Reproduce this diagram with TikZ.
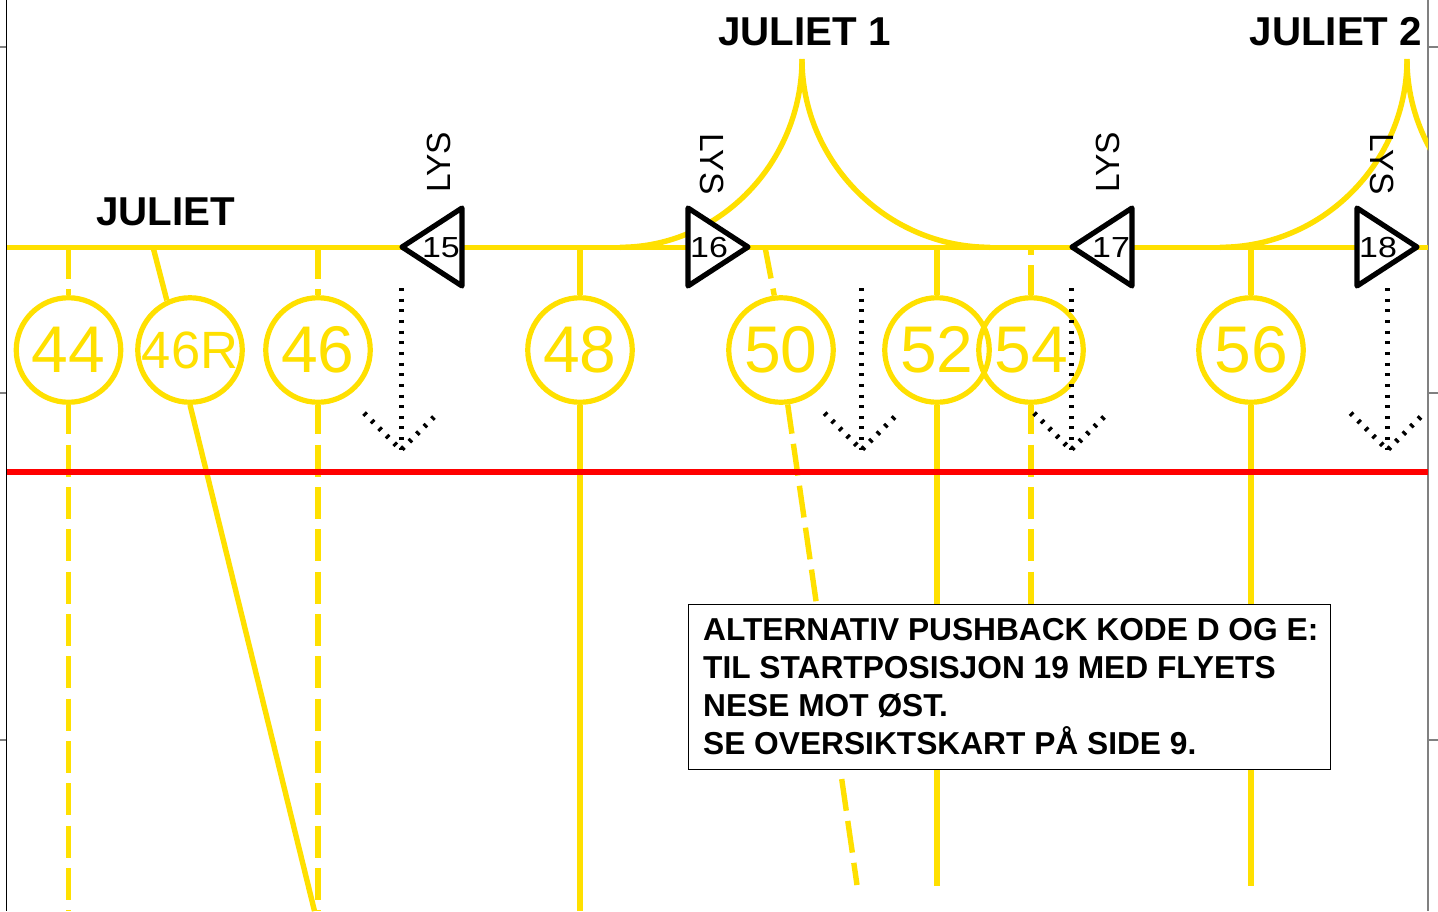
\documentclass[tikz,border=0pt]{standalone}
\usepackage{fontspec}
\setmainfont{Liberation Sans}
\definecolor{taxi}{HTML}{FFE000}
\definecolor{frameg}{HTML}{808080}
\tikzset{
  taxiline/.style={draw=taxi,line width=5.4pt},
  dashline/.style={taxiline,dash pattern=on 32pt off 10.33pt},
  stand/.style={circle,draw=taxi,line width=5.2pt,minimum size=104.5pt,inner sep=0pt,text=taxi,font=\fontsize{66}{70}\selectfont},
  standsmall/.style={stand,font=\fontsize{52.5}{56}\selectfont},
  tri/.style={draw=black,fill=white,line width=5.2pt,line join=round},
  trinum/.style={font=\fontsize{29}{30}\selectfont,xscale=1.17,transform shape,inner sep=0pt},
  lys/.style={font=\fontsize{33.5}{36}\selectfont,inner sep=0pt},
  twylabel/.style={font=\bfseries\fontsize{40.3}{44}\selectfont,inner sep=0pt,anchor=base west},
  dotline/.style={draw=black,line width=5pt,dash pattern=on 3pt off 7.65pt},
  frametick/.style={line width=1.5pt,draw=frameg},
  notebox/.style={draw=black,line width=1.3pt,fill=white,anchor=north west,align=left,inner sep=0pt,
     minimum width=642pt,minimum height=165pt,font=\bfseries\fontsize{31.7}{37.75}\selectfont}
}
\begin{document}
\begin{tikzpicture}[x=1pt,y=-1pt]
\useasboundingbox (0,0) rectangle (1438,911);
\fill[white] (0,0) rectangle (1438,911);
% frame
\draw[frametick] (0,47) -- (6,47) (0,393) -- (6,393) (0,740) -- (6,740);
\draw[frametick] (1428,47) -- (1438,47) (1428,393) -- (1438,393) (1428,740) -- (1438,740);
\draw[line width=1.5pt,draw=black] (6.5,0) -- (6.5,911);
\draw[line width=1.5pt,draw=frameg] (1428,0) -- (1428,911);
% stands
\node[stand] (c44) at (68.5,350) {44};
\node[standsmall] (c46R) at (190,350) {46R};
\node[stand] (c46) at (318,350) {46};
\node[stand] (c48) at (580,350) {48};
\node[stand] (c50) at (781,350) {50};
\node[stand] (c52) at (937,350) {52};
\node[stand] (c54) at (1031,350) {54};
\node[stand] (c56) at (1251,350) {56};
% taxiway
\coordinate (w) at (7,247.3);
\coordinate (e) at (1428,247.3);
\draw[taxiline] (w) -- (e);
% junction points and line ends
\coordinate (j44) at (68.5,247); \coordinate (e44) at (68.5,911);
\coordinate (j46R) at (153,247); \coordinate (e46R) at (314.5,911);
\coordinate (j46) at (318,247); \coordinate (e46) at (318,911);
\coordinate (j48) at (580,247); \coordinate (e48) at (580,911);
\coordinate (j50) at (765,247); \coordinate (e50) at (857,885);
\coordinate (j52) at (937,247); \coordinate (e52) at (937,886);
\coordinate (j54) at (1031,247); \coordinate (e54) at (1031,604);
\coordinate (j56) at (1251,247); \coordinate (e56) at (1251,886);
\draw[dashline] (j44) -- (c44);
\draw[dashline,dash phase=2.5pt] (c44) -- (e44);
\draw[taxiline] (j46R) -- (c46R.115);
\draw[taxiline] (c46R.south) -- (e46R);
\draw[dashline] (j46) -- (c46);
\draw[dashline,dash phase=2.5pt] (c46) -- (e46);
\draw[taxiline] (j48) -- (c48);
\draw[taxiline] (c48) -- (e48);
\draw[dashline] (j50) -- (c50.97);
\draw[dashline,dash phase=2.5pt] (c50.-83) -- (e50);
\draw[taxiline] (j52) -- (c52);
\draw[taxiline] (c52) -- (e52);
\draw[dashline,dash phase=24pt] (j54) -- (c54);
\draw[dashline,dash phase=2.5pt] (c54) -- (e54);
\draw[taxiline] (j56) -- (c56);
\draw[taxiline] (c56) -- (e56);
% Juliet 1 and 2 curves
\coordinate (a1) at (802,59);
\coordinate (l1) at (620,247.3);
\coordinate (r1) at (990,247.3);
\coordinate (a2) at (1407,59);
\coordinate (l2) at (1220,247.3);
\draw[taxiline] (a1) .. controls (802,162) and (720,247.3) .. (l1);
\draw[taxiline] (a1) .. controls (802,162) and (887,247.3) .. (r1);
\draw[taxiline] (a2) .. controls (1407,162) and (1323,247.3) .. (l2);
\begin{scope}
\clip (1300,0) rectangle (1428,300);
\draw[taxiline] (a2) .. controls (1407,162) and (1492,247.3) .. (1595,247.3);
\end{scope}
% red line
\coordinate (rw) at (7,471.8);
\coordinate (re) at (1428,471.8);
\draw[draw=red,line width=5.5pt] (rw) -- (re);
% triangles
\draw[tri] (402,247) -- (462,208) -- (462,286) -- cycle;
\draw[tri] (688,208) -- (688,286) -- (748,247) -- cycle;
\draw[tri] (1072,247) -- (1132,208) -- (1132,286) -- cycle;
\draw[tri] (1357,208) -- (1357,286) -- (1417,247) -- cycle;
\node[trinum] (n15) at (441,247.5) {15};
\node[trinum] (n16) at (709,247.5) {16};
\node[trinum] (n17) at (1111,247.5) {17};
\node[trinum] (n18) at (1378,247.5) {18};
\node[lys,rotate=90] (lys15) at (438.5,162.5) {LYS};
\node[lys,rotate=-90] (lys16) at (712,164) {LYS};
\node[lys,rotate=90] (lys17) at (1107.5,162.5) {LYS};
\node[lys,rotate=-90] (lys18) at (1382,164) {LYS};
% dotted arrows
\foreach \n/\x in {a/401,b/861.5,c/1071,d/1387.5}{
  \coordinate (s\n) at (\x,288);
  \coordinate (t\n) at (\x,450);
  \coordinate (hl\n) at (\x-37,413);
  \coordinate (hr\n) at (\x+33,417);
  \draw[dotline] (s\n) -- (t\n);
  \draw[dotline] (hl\n) -- (t\n);
  \draw[dotline] (hr\n) -- (t\n);
}
% labels
\node[twylabel] (jul) at (96,225.5) {JULIET};
\node[twylabel] (jul1) at (718,45) {JULIET 1};
\node[twylabel] (jul2) at (1249.5,45) {JULIET 2};
\node[notebox] (box) at (687.5,603.5) {\hspace*{15pt}\parbox{627pt}{ALTERNATIV PUSHBACK KODE D OG E:\\TIL STARTPOSISJON 19 MED FLYETS\\NESE MOT ØST.\\SE OVERSIKTSKART PÅ SIDE 9.}};
\end{tikzpicture}
\end{document}
